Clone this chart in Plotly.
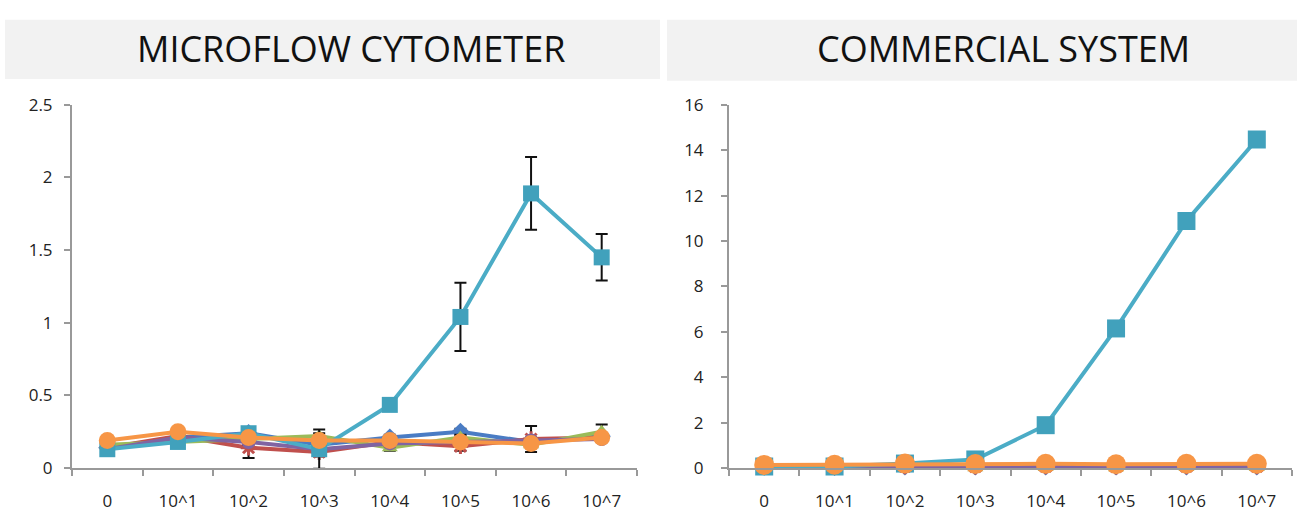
import plotly.graph_objects as go

W, H = 1297, 525

# Categories (cell concentration)
categories = ["0", "10^1", "10^2", "10^3", "10^4", "10^5", "10^6", "10^7"]

# Microflow cytometer signal per series
micro_blue   = [0.14, 0.21, 0.24, 0.16, 0.21, 0.25, 0.18, 0.22]
micro_red    = [0.14, 0.22, 0.14, 0.11, 0.18, 0.15, 0.20, 0.21]
micro_green  = [0.16, 0.18, 0.20, 0.22, 0.14, 0.21, 0.16, 0.25]
micro_purple = [0.13, 0.21, 0.18, 0.13, 0.17, 0.18, 0.19, 0.20]
micro_cyan   = [0.13, 0.18, 0.24, 0.13, 0.435, 1.04, 1.89, 1.45]
micro_orange = [0.19, 0.25, 0.21, 0.19, 0.19, 0.18, 0.17, 0.21]

# Error bars (± standard deviation)
err_blue   = [0.02, 0.02, 0.02, 0.02, 0.02, 0.02, 0.02, 0.02]
err_red    = [0.02, 0.02, 0.07, 0.03, 0.02, 0.03, 0.09, 0.02]
err_green  = [0.02, 0.02, 0.02, 0.02, 0.02, 0.02, 0.02, 0.05]
err_purple = [0.02, 0.02, 0.02, 0.02, 0.02, 0.02, 0.02, 0.02]
err_cyan   = [0.02, 0.02, 0.02, 0.135, 0.03, 0.235, 0.25, 0.16]
err_orange = [0.02, 0.02, 0.02, 0.02, 0.02, 0.02, 0.02, 0.02]

# Commercial system signal per series
comm_blue   = [0.06, 0.05, 0.08, 0.07, 0.08, 0.07, 0.08, 0.08]
comm_red    = [0.05, 0.05, 0.07, 0.06, 0.07, 0.06, 0.07, 0.07]
comm_green  = [0.02, 0.02, 0.03, 0.02, 0.03, 0.02, 0.03, 0.03]
comm_purple = [0.07, 0.06, 0.09, 0.08, 0.09, 0.08, 0.09, 0.09]
comm_cyan   = [0.07, 0.07, 0.20, 0.38, 1.89, 6.15, 10.88, 14.47]
comm_orange = [0.14, 0.15, 0.20, 0.18, 0.19, 0.17, 0.19, 0.19]

colors = {
    "blue": "#4A7CC4", "red": "#C0504D", "green": "#9BBB59",
    "purple": "#8064A2", "cyan": "#4BACC6", "orange": "#F79646",
}

def marker_style(name, big=False):
    styles = {
        "blue": dict(symbol="diamond", size=14),
        "red": dict(symbol="asterisk-open", size=13, line=dict(width=3, color=colors["red"])),
        "green": dict(symbol="triangle-up", size=14),
        "purple": dict(symbol="circle", size=14),
        "cyan": dict(symbol="square", size=18 if big else 16, color="#41A1BC"),
        "orange": dict(symbol="circle", size=20 if big else 17),
    }
    m = dict(color=colors[name])
    m.update(styles[name])
    return m

micro = [("blue", micro_blue, err_blue), ("red", micro_red, err_red),
         ("green", micro_green, err_green), ("purple", micro_purple, err_purple),
         ("cyan", micro_cyan, err_cyan), ("orange", micro_orange, err_orange)]
comm = [("blue", comm_blue), ("red", comm_red), ("green", comm_green),
        ("purple", comm_purple), ("cyan", comm_cyan), ("orange", comm_orange)]

fig = go.Figure()

for name, vals, err in micro:
    fig.add_trace(go.Scatter(
        x=categories, y=vals, mode="lines+markers", xaxis="x", yaxis="y",
        line=dict(color=colors[name], width=4), marker=marker_style(name),
        cliponaxis=False,
        error_y=dict(type="data", array=err, color="#111111", thickness=2, width=6),
        showlegend=False,
    ))

for name, vals in comm:
    fig.add_trace(go.Scatter(
        x=categories, y=vals, mode="lines+markers", xaxis="x2", yaxis="y2",
        line=dict(color=colors[name], width=4), marker=marker_style(name, big=True),
        cliponaxis=False, showlegend=False,
    ))

def px_x(p):
    return p / W

def px_y(p):
    return (H - p) / H

y_dom = [px_y(477), px_y(97)]
axis_col = "#999999"
tick_font = dict(family="Open Sans, DejaVu Sans, sans-serif", size=17, color="#222222")

xcommon = dict(type="category", range=[-0.5, 7.5], tickson="boundaries",
               ticks="outside", ticklen=6, tickcolor=axis_col, tickwidth=1.5,
               showline=True, linecolor=axis_col, linewidth=2, showgrid=False,
               zeroline=False, tickfont=tick_font, ticklabelstandoff=16)
ycommon = dict(ticks="outside", ticklen=6, tickcolor=axis_col, tickwidth=1.5,
               showline=True, linecolor=axis_col, linewidth=2, showgrid=False,
               zeroline=False, tickfont=tick_font, domain=y_dom)

title_font = dict(family="Open Sans", size=36, color="#111111")

fig.update_layout(
    width=W, height=H, margin=dict(l=0, r=0, t=0, b=0),
    paper_bgcolor="white", plot_bgcolor="white",
    xaxis=dict(xcommon, domain=[px_x(72), px_x(637)], anchor="y"),
    yaxis=dict(ycommon, range=[0, 2.5], dtick=0.5, anchor="x", ticklabelstandoff=8),
    xaxis2=dict(xcommon, domain=[px_x(729), px_x(1292)], anchor="y2"),
    yaxis2=dict(ycommon, range=[0, 16], dtick=2, anchor="x2", ticklabelstandoff=14),
    shapes=[
        dict(type="rect", xref="paper", yref="paper", layer="below",
             x0=px_x(5), x1=px_x(660), y0=px_y(70), y1=px_y(8),
             fillcolor="#F2F2F2", line=dict(width=0)),
        dict(type="rect", xref="paper", yref="paper", layer="below",
             x0=px_x(667), x1=px_x(1297), y0=px_y(72), y1=px_y(8),
             fillcolor="#F2F2F2", line=dict(width=0)),
    ],
    annotations=[
        dict(text="MICROFLOW CYTOMETER", xref="paper", yref="paper",
             x=px_x(351), y=px_y(38), xanchor="center", yanchor="middle",
             showarrow=False, font=title_font),
        dict(text="COMMERCIAL SYSTEM", xref="paper", yref="paper",
             x=px_x(1003), y=px_y(38), xanchor="center", yanchor="middle",
             showarrow=False, font=title_font),
    ],
)

fig.write_html("out.html")
